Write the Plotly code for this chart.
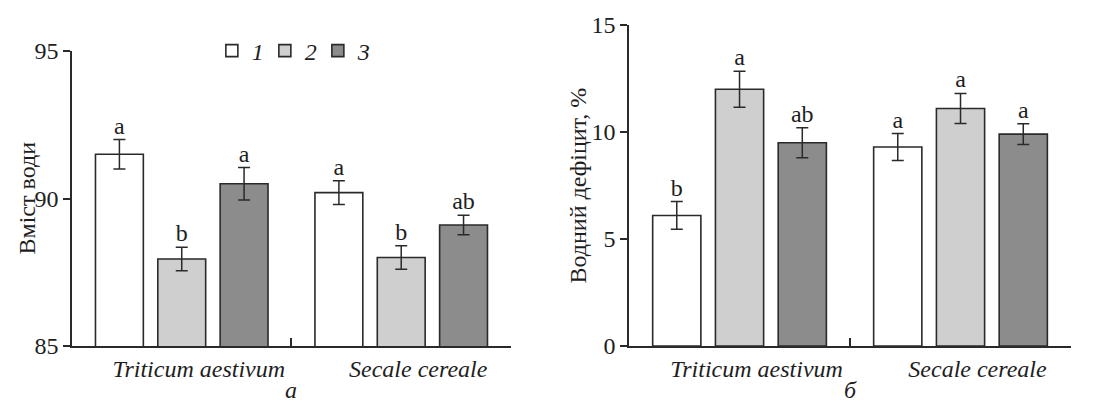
import plotly.graph_objects as go

# ---------------- data ----------------
categories = ["Triticum aestivum", "Secale cereale"]
series_names = ["1", "2", "3"]

water_content = [[91.5, 90.2], [87.95, 88.0], [90.5, 89.1]]
water_content_err = [[0.5, 0.4], [0.4, 0.4], [0.55, 0.33]]
water_content_letters = [["a", "a"], ["b", "b"], ["a", "ab"]]

water_deficit = [[6.1, 9.3], [12.0, 11.1], [9.5, 9.9]]
water_deficit_err = [[0.65, 0.63], [0.84, 0.7], [0.7, 0.48]]
water_deficit_letters = [["b", "a"], ["a", "a"], ["ab", "a"]]

left_ticks = [85, 90, 95]
right_ticks = [0, 5, 10, 15]

# ---------------- style ----------------
FONT = "Liberation Serif"
TXT = "#1e1e1e"
EDGE = "#2a2a2a"
fills = ["#ffffff", "#cfcfcf", "#8c8c8c"]
FS = 24

fig = go.Figure()

def add_panel(values, errs, letters, xa, ya, show):
    for j in range(3):
        fig.add_trace(go.Bar(
            x=categories, y=values[j], name=series_names[j],
            xaxis=xa, yaxis=ya, offsetgroup=str(j), showlegend=show,
            legendgroup=str(j),
            marker=dict(color=fills[j], line=dict(color=EDGE, width=1.6)),
            error_y=dict(type="data", array=errs[j], color=EDGE,
                         thickness=1.5, width=6),
        ))
    for j in range(3):
        fig.add_trace(go.Scatter(
            x=categories,
            y=[v + e for v, e in zip(values[j], errs[j])],
            text=letters[j], mode="text", textposition="top center",
            textfont=dict(family=FONT, size=FS, color=TXT),
            xaxis=xa, yaxis=ya, offsetgroup=str(j), showlegend=False,
            hoverinfo="skip",
        ))

add_panel(water_content, water_content_err, water_content_letters, "x", "y", True)
add_panel(water_deficit, water_deficit_err, water_deficit_letters, "x2", "y2", False)

xcommon = dict(
    type="category", tickson="boundaries", ticks="inside", ticklen=8,
    tickwidth=1.5, tickcolor=EDGE, showline=True, linecolor=EDGE,
    linewidth=1.5, showgrid=False, zeroline=False, ticklabelshift=17,
    tickfont=dict(family=FONT, size=FS, color=TXT, style="italic"),
)
ycommon = dict(
    ticks="outside", ticklen=7, tickwidth=1.5, tickcolor=EDGE,
    showline=True, linecolor=EDGE, linewidth=1.5, showgrid=False,
    zeroline=False, tickfont=dict(family=FONT, size=FS, color=TXT),
)

fig.update_layout(
    width=1107, height=402,
    margin=dict(l=72, r=36, t=25, b=56),
    paper_bgcolor="white", plot_bgcolor="white",
    barmode="group", bargap=0.148, bargroupgap=0.232,
    scattermode="group", scattergap=0.148,
    font=dict(family=FONT, size=FS, color=TXT),
    xaxis=dict(domain=[0, 0.4394], anchor="y", **xcommon),
    yaxis=dict(domain=[0, 0.919], anchor="x", range=[85, 95],
               tickvals=left_ticks, **ycommon),
    xaxis2=dict(domain=[0.5576, 1.0], anchor="y2", **xcommon),
    yaxis2=dict(domain=[0, 1], anchor="x2", range=[0, 15],
                tickvals=right_ticks, **ycommon),
    legend=dict(orientation="h", x=0.14, xanchor="left",
                y=(402 - 51 - 56) / 321, yanchor="middle",
                font=dict(family=FONT, size=FS, color=TXT, style="italic"),
                bgcolor="rgba(0,0,0,0)", itemwidth=30, tracegroupgap=0,
                entrywidth=8, entrywidthmode="pixels"),
    showlegend=True,
)

# y-axis titles
for xref, yref, xs, title in (("x domain", "y domain", -45, "Вміст води"),
                              ("x2 domain", "y2 domain", -52, "Водний дефіцит, %")):
    fig.add_annotation(xref=xref, yref=yref, x=0, y=0.5, xshift=xs,
                       xanchor="center", yanchor="middle", textangle=-90,
                       showarrow=False, text=title,
                       font=dict(family=FONT, size=FS, color=TXT))

# panel labels
for ref, lab in (("x domain", "а"), ("x2 domain", "б")):
    fig.add_annotation(xref=ref, yref="paper", x=0.5, y=0, yanchor="bottom",
                       yshift=-59, showarrow=False, text=lab,
                       font=dict(family=FONT, size=FS, color=TXT, style="italic"))

fig.write_html("out.html")
